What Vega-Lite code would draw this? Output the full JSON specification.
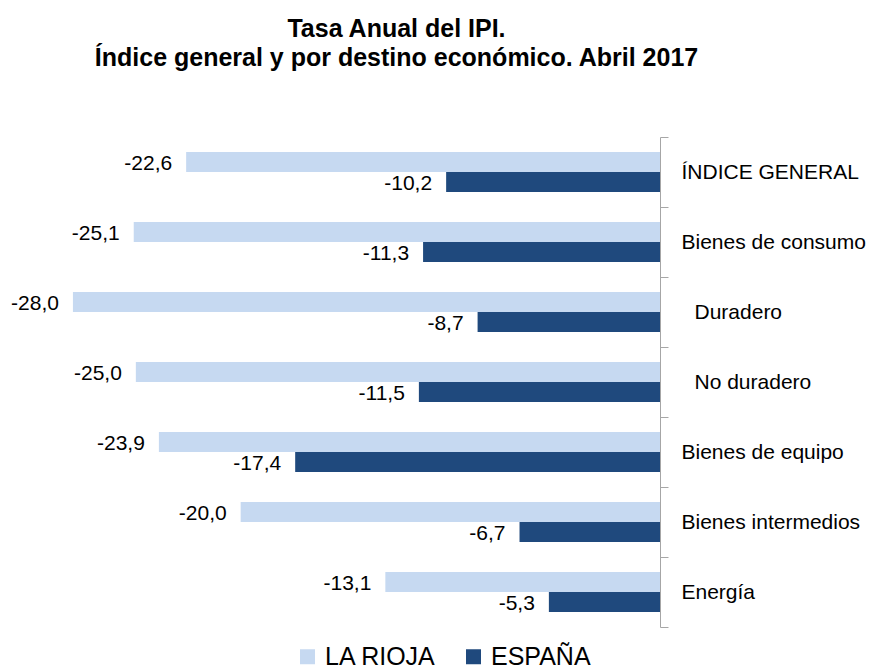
{
  "$schema": "https://vega.github.io/schema/vega-lite/v6.json",
  "width": 629,
  "height": 490,
  "autosize": {"type": "none"},
  "padding": {"left": 31, "top": 137, "right": 213, "bottom": 38},
  "background": "white",
  "title": {
    "text": ["Tasa Anual del IPI.", "Índice general y por destino económico. Abril 2017"],
    "font": "Liberation Sans",
    "fontSize": 25,
    "fontWeight": "bold",
    "color": "black",
    "anchor": "middle",
    "frame": "group",
    "dx": 51,
    "lineHeight": 29,
    "offset": 55
  },
  "data": {
    "values": [
      {"categoria": "ÍNDICE GENERAL", "serie": "LA RIOJA", "valor": -22.6},
      {"categoria": "ÍNDICE GENERAL", "serie": "ESPAÑA", "valor": -10.2},
      {"categoria": "Bienes de consumo", "serie": "LA RIOJA", "valor": -25.1},
      {"categoria": "Bienes de consumo", "serie": "ESPAÑA", "valor": -11.3},
      {"categoria": "Duradero", "serie": "LA RIOJA", "valor": -28.0},
      {"categoria": "Duradero", "serie": "ESPAÑA", "valor": -8.7},
      {"categoria": "No duradero", "serie": "LA RIOJA", "valor": -25.0},
      {"categoria": "No duradero", "serie": "ESPAÑA", "valor": -11.5},
      {"categoria": "Bienes de equipo", "serie": "LA RIOJA", "valor": -23.9},
      {"categoria": "Bienes de equipo", "serie": "ESPAÑA", "valor": -17.4},
      {"categoria": "Bienes intermedios", "serie": "LA RIOJA", "valor": -20.0},
      {"categoria": "Bienes intermedios", "serie": "ESPAÑA", "valor": -6.7},
      {"categoria": "Energía", "serie": "LA RIOJA", "valor": -13.1},
      {"categoria": "Energía", "serie": "ESPAÑA", "valor": -5.3}
    ]
  },
  "encoding": {
    "y": {
      "field": "categoria",
      "type": "nominal",
      "sort": ["ÍNDICE GENERAL", "Bienes de consumo", "Duradero", "No duradero", "Bienes de equipo", "Bienes intermedios", "Energía"],
      "scale": {"paddingInner": 0, "paddingOuter": 0},
      "axis": {
        "orient": "right",
        "title": null,
        "tickBand": "extent",
        "domainColor": "#A6A6A6",
        "tickColor": "#A6A6A6",
        "tickSize": 8,
        "labelPadding": {
          "condition": {"test": "datum.value === 'Duradero' || datum.value === 'No duradero'", "value": 26},
          "value": 13
        },
        "labelFont": "Liberation Sans",
        "labelFontSize": 21,
        "labelColor": "black",
        "labelLimit": 300,
        "labelAlign": "left"
      }
    },
    "yOffset": {
      "field": "serie",
      "type": "nominal",
      "sort": ["LA RIOJA", "ESPAÑA"],
      "scale": {"paddingInner": 0, "paddingOuter": 0.75}
    },
    "x": {
      "field": "valor",
      "type": "quantitative",
      "scale": {"domain": [-30, 0], "nice": false, "zero": false},
      "axis": null
    }
  },
  "layer": [
    {
      "mark": {"type": "bar"},
      "encoding": {
        "color": {
          "field": "serie",
          "type": "nominal",
          "sort": ["LA RIOJA", "ESPAÑA"],
          "scale": {"domain": ["LA RIOJA", "ESPAÑA"], "range": ["#C6D9F1", "#1F497D"]},
          "legend": {
            "orient": "none",
            "legendX": 264,
            "legendY": 507,
            "direction": "horizontal",
            "title": null,
            "symbolType": "square",
            "symbolSize": 225,
            "symbolStrokeWidth": 0,
            "labelFont": "Liberation Sans",
            "labelFontSize": 25,
            "labelColor": "black",
            "labelOffset": 5,
            "columnPadding": 24,
            "padding": 0
          }
        }
      }
    },
    {
      "mark": {"type": "text", "align": "right", "baseline": "middle", "dx": -14, "dy": 2, "fontSize": 21, "font": "Liberation Sans", "color": "black"},
      "encoding": {
        "text": {"field": "valor", "type": "quantitative", "format": ".1f"}
      }
    }
  ],
  "config": {
    "view": {"stroke": null},
    "locale": {
      "number": {"decimal": ",", "thousands": ".", "grouping": [3], "currency": ["", " €"], "minus": "-"}
    }
  }
}
